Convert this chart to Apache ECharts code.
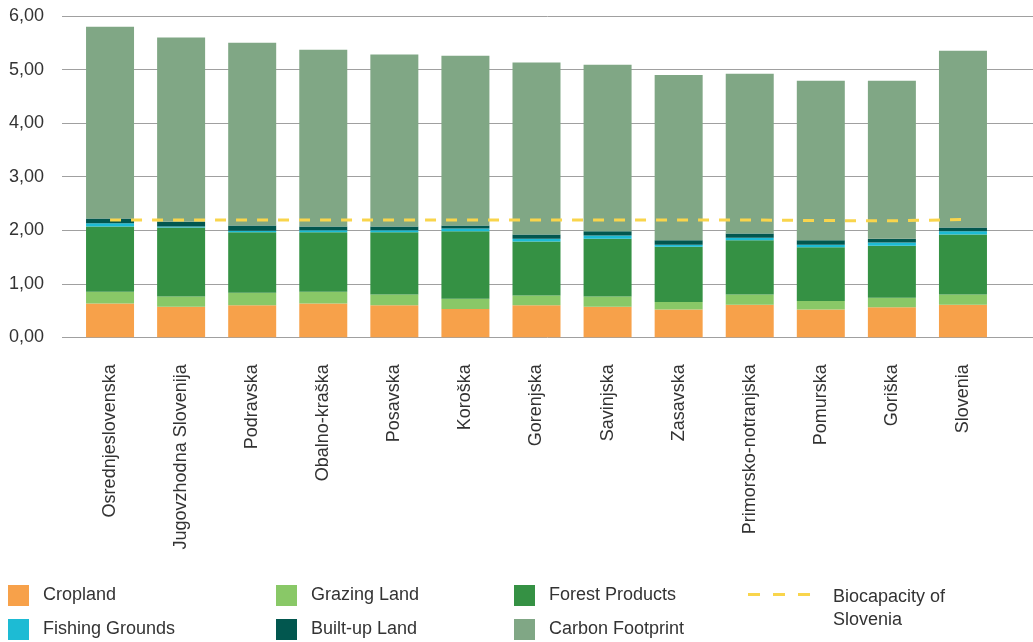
<!DOCTYPE html>
<html>
<head>
<meta charset="utf-8">
<script src="https://cdn.jsdelivr.net/npm/echarts@6/dist/echarts.min.js"></script>
<style>
html,body{margin:0;padding:0;background:#fff;}
#chart{width:1033px;height:642px;}
</style>
</head>
<body>
<div id="chart"></div>
<script>
const categories = ['Osrednjeslovenska','Jugovzhodna Slovenija','Podravska','Obalno-kraška','Posavska','Koroška','Gorenjska','Savinjska','Zasavska','Primorsko-notranjska','Pomurska','Goriška','Slovenia'];
const cropland        = [0.63,0.57,0.60,0.63,0.60,0.53,0.60,0.57,0.52,0.61,0.52,0.56,0.61];
const grazingLand     = [0.22,0.19,0.23,0.22,0.20,0.19,0.18,0.19,0.14,0.19,0.16,0.18,0.19];
const forestProducts  = [1.22,1.29,1.13,1.11,1.16,1.26,1.01,1.08,1.03,1.01,1.00,0.97,1.12];
const fishingGrounds  = [0.06,0.02,0.03,0.04,0.04,0.05,0.05,0.06,0.04,0.05,0.05,0.06,0.06];
const builtUpLand     = [0.09,0.09,0.10,0.07,0.07,0.06,0.08,0.08,0.08,0.08,0.08,0.07,0.07];
const carbonFootprint = [3.58,3.44,3.41,3.30,3.21,3.17,3.21,3.11,3.09,2.98,2.98,2.95,3.30];
const biocapacity     = [2.19,2.19,2.19,2.19,2.19,2.19,2.19,2.19,2.19,2.19,2.18,2.175,2.20];
const yTicks = [0,1,2,3,4,5,6];

const FONT = 'Liberation Sans, Arial, sans-serif';
const TXT = '#333333';
const chart = echarts.init(document.getElementById('chart'), null, {renderer:'canvas'});

function bar(name, data, color){
  return {name, type:'bar', stack:'total', data, xAxisIndex:1, yAxisIndex:1,
    barWidth:48, itemStyle:{color}, emphasis:{disabled:true}};
}
const legendBase = {orient:'vertical', padding:0, itemWidth:21, itemHeight:21, itemGap:13, height:120, selectedMode:false,
  icon:'rect', textStyle:{fontSize:18, color:TXT, fontFamily:FONT, padding:[0,0,0,9]}};

chart.setOption({
  animation:false,
  textStyle:{fontFamily:FONT},
  grid:[
    {left:62, right:0, top:16, height:321.3},
    {left:74.5, right:34.5, top:16, height:321.3}
  ],
  xAxis:[
    {type:'category', gridIndex:0, data:categories, show:false},
    {type:'category', gridIndex:1, data:categories,
      axisLine:{show:false}, axisTick:{show:false},
      axisLabel:{rotate:90, interval:0, margin:27, fontSize:18, color:TXT, fontFamily:FONT}}
  ],
  yAxis:[
    {type:'value', gridIndex:0, min:yTicks[0], max:yTicks[yTicks.length-1], interval:1,
      axisLine:{show:false}, axisTick:{show:false},
      splitLine:{lineStyle:{color:'#a0a0a0', width:1}},
      axisLabel:{margin:18, fontSize:18, color:TXT, fontFamily:FONT,
        formatter:v=>v.toFixed(2).replace('.',',')}},
    {type:'value', gridIndex:1, min:0, max:6, interval:1, show:false, splitLine:{show:false}}
  ],
  legend:[
    Object.assign({}, legendBase, {left:8, top:585, data:['Cropland','Fishing Grounds']}),
    Object.assign({}, legendBase, {left:276, top:585, data:['Grazing Land','Built-up Land']}),
    Object.assign({}, legendBase, {left:514, top:585, data:['Forest Products','Carbon Footprint']}),
    {orient:'vertical', padding:0, left:748, top:557, height:120, itemWidth:62, itemHeight:3, selectedMode:false,
      data:[{name:'Biocapacity of\nSlovenia',
        icon:'path://M0,0h12v3h-12z M25,0h12v3h-12z M50,0h12v3h-12z'}],
      formatter: name => '{s|}\n' + name,
      textStyle:{fontSize:18, color:TXT, fontFamily:FONT, lineHeight:23, padding:[0,0,0,18],
        rich:{s:{lineHeight:29, fontSize:18}}}}
  ],
  series:[
    bar('Cropland', cropland, '#F7A14A'),
    bar('Grazing Land', grazingLand, '#89C867'),
    bar('Forest Products', forestProducts, '#359144'),
    bar('Fishing Grounds', fishingGrounds, '#1DBBD4'),
    bar('Built-up Land', builtUpLand, '#02574F'),
    bar('Carbon Footprint', carbonFootprint, '#80A785'),
    {name:'Biocapacity of\nSlovenia', type:'line', data:biocapacity, xAxisIndex:1, yAxisIndex:1,
      symbol:'none', z:5, color:'#F9D54C', itemStyle:{color:'#F9D54C'},
      lineStyle:{color:'#F9D54C', width:3, type:[11,10]}, emphasis:{disabled:true}}
  ]
});
</script>
</body>
</html>
